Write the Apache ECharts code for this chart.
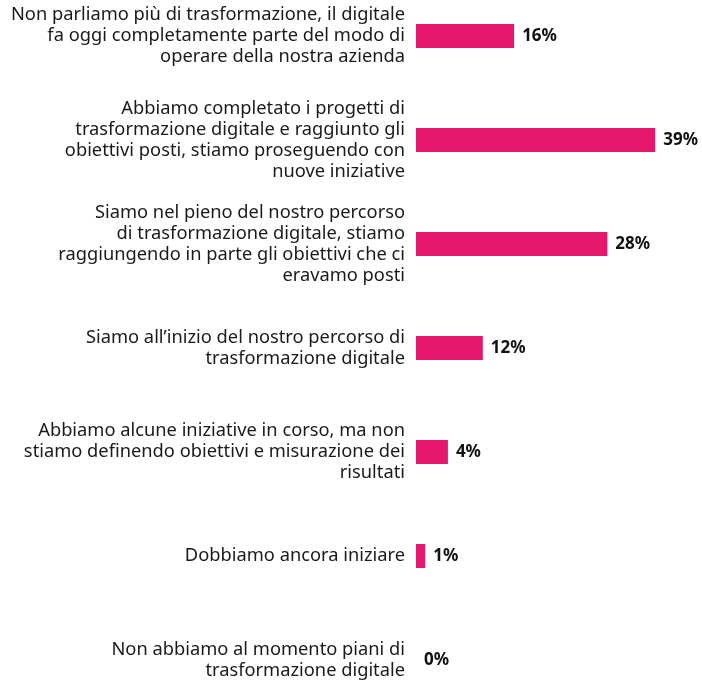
<!DOCTYPE html>
<html lang="it">
<head>
<meta charset="utf-8">
<title>Trasformazione digitale</title>
<script src="https://cdn.jsdelivr.net/npm/echarts@6/dist/echarts.min.js"></script>
<style>
  html, body { margin: 0; padding: 0; background: #fff; }
  #chart1 { width: 702px; height: 683px; }
</style>
</head>
<body>
<div id="chart1"></div>
<script type="text/javascript">
// categorie (dall'alto verso il basso)
var categorie = [
    "Non parliamo più di trasformazione, il digitale\nfa oggi completamente parte del modo di\noperare della nostra azienda",
    "Abbiamo completato i progetti di\ntrasformazione digitale e raggiunto gli\nobiettivi posti, stiamo proseguendo con\nnuove iniziative",
    "Siamo nel pieno del nostro percorso\ndi trasformazione digitale, stiamo\nraggiungendo in parte gli obiettivi che ci\neravamo posti",
    "Siamo all’inizio del nostro percorso di\ntrasformazione digitale",
    "Abbiamo alcune iniziative in corso, ma non\nstiamo definendo obiettivi e misurazione dei\nrisultati",
    "Dobbiamo ancora iniziare",
    "Non abbiamo al momento piani di\ntrasformazione digitale"
];
// lunghezza delle barre
var valori = [16, 39, 31.2, 10.9, 5.2, 1.5, 0];
// percentuali mostrate accanto alle barre
var etichette = ["16%", "39%", "28%", "12%", "4%", "1%", "0%"];

var myChart = echarts.init(document.getElementById("chart1"));
myChart.setOption({
    animation: false,
    grid: { left: 416, top: -16, height: 728, right: 10, outerBoundsMode: 'none' },
    xAxis: {
        type: 'value',
        min: 0,
        max: 45,
        show: false
    },
    yAxis: {
        type: 'category',
        inverse: true,
        data: categorie,
        axisLine: { show: false },
        axisTick: { show: false },
        axisLabel: {
            margin: 11,
            fontFamily: 'Noto Sans',
            fontSize: 18.3,
            lineHeight: 21,
            color: '#1a1a1a',
            align: 'right'
        }
    },
    series: [{
        type: 'bar',
        barWidth: 24,
        data: valori,
        itemStyle: { color: '#e6186e' },
        label: {
            show: true,
            position: 'right',
            distance: 8,
            fontFamily: 'Noto Sans',
            fontWeight: 'bold',
            fontSize: 17,
            color: '#111',
            formatter: function (p) { return etichette[p.dataIndex]; }
        }
    }]
});
</script>
</body>
</html>
